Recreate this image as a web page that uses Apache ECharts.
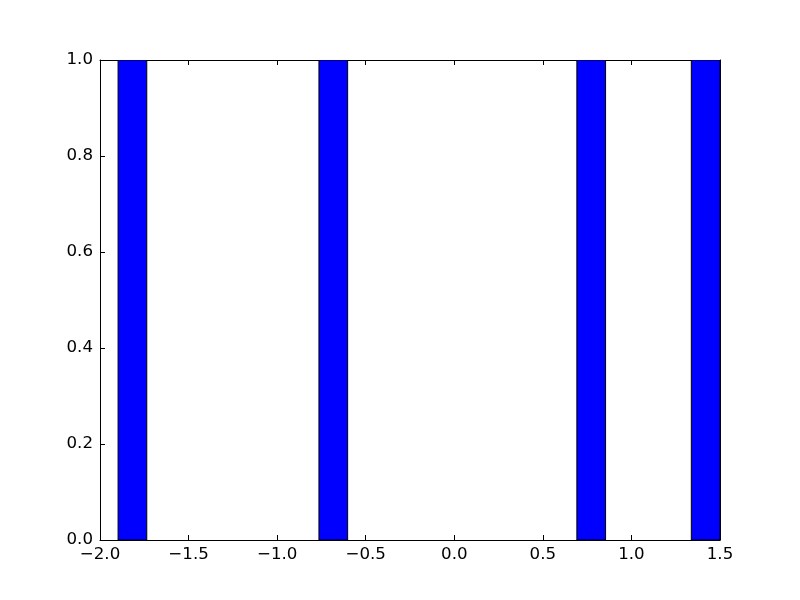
<!DOCTYPE html>
<html>
<head>
<meta charset="utf-8">
<script src="https://cdn.jsdelivr.net/npm/echarts@6/dist/echarts.min.js"></script>
<style>html,body{margin:0;padding:0;background:#fff}#c{width:800px;height:600px}</style>
</head>
<body>
<div id="c"></div>
<script>
// Histogram bins (left edge, right edge) and counts
var binStarts = [-1.898, -0.764, 0.692, 1.338];
var binEnds = [-1.736, -0.602, 0.854, 1.5];
var counts = [1, 1, 1, 1];
var xTicks = [-2.0, -1.5, -1.0, -0.5, 0.0, 0.5, 1.0, 1.5];
var yTicks = [0.0, 0.2, 0.4, 0.6, 0.8, 1.0];

var data = binStarts.map(function (s, i) { return [s, binEnds[i], counts[i]]; });
var fmt = function (v) { return v.toFixed(1).replace('-', '\u2212'); };
var font = { fontFamily: 'DejaVu Sans', fontSize: 16.67, color: '#000' };

var chart = echarts.init(document.getElementById('c'), null, { renderer: 'canvas' });
var tickStyle = { show: true, inside: true, length: 5, lineStyle: { color: '#000', width: 1 } };
var lineStyle = { show: true, onZero: false, lineStyle: { color: '#000', width: 1 } };
chart.setOption({
  animation: false,
  backgroundColor: '#fff',
  grid: { left: 100, right: 80, top: 60, bottom: 60, containLabel: false },
  xAxis: [{
    type: 'value', min: xTicks[0], max: xTicks[xTicks.length - 1], interval: 0.5,
    position: 'bottom', axisLine: lineStyle, axisTick: tickStyle, splitLine: { show: false },
    axisLabel: Object.assign({ margin: 6, formatter: fmt }, font)
  }, {
    type: 'value', min: xTicks[0], max: xTicks[xTicks.length - 1], interval: 0.5,
    position: 'top', axisLine: lineStyle, axisTick: tickStyle, splitLine: { show: false },
    axisLabel: { show: false }
  }],
  yAxis: [{
    type: 'value', min: yTicks[0], max: yTicks[yTicks.length - 1], interval: 0.2,
    position: 'left', axisLine: lineStyle, axisTick: tickStyle, splitLine: { show: false },
    axisLabel: Object.assign({ margin: 7, formatter: fmt }, font)
  }, {
    type: 'value', min: yTicks[0], max: yTicks[yTicks.length - 1], interval: 0.2,
    position: 'right', axisLine: lineStyle, axisTick: tickStyle, splitLine: { show: false },
    axisLabel: { show: false }
  }],
  series: [{
    type: 'custom',
    xAxisIndex: 0, yAxisIndex: 0,
    data: data,
    clip: true,
    renderItem: function (params, api) {
      var p0 = api.coord([api.value(0), 0]);
      var p1 = api.coord([api.value(1), api.value(2)]);
      return {
        type: 'rect',
        shape: { x: p0[0], y: p1[1], width: p1[0] - p0[0], height: p0[1] - p1[1] },
        style: { fill: '#0000ff', stroke: '#000', lineWidth: 1 }
      };
    }
  }]
});
</script>
</body>
</html>
